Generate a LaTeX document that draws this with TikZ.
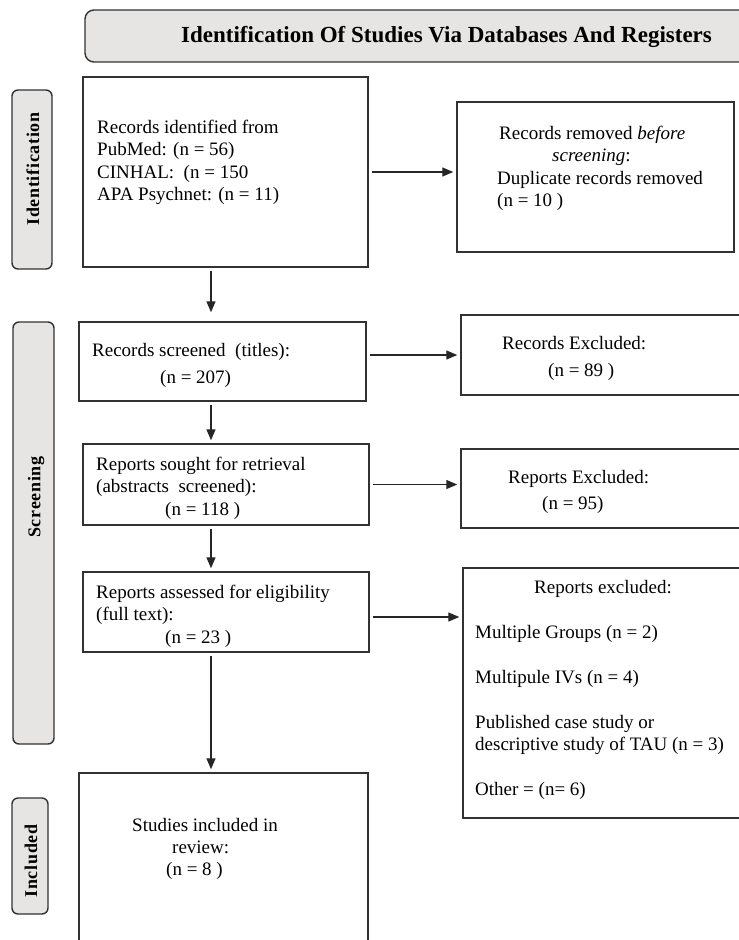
\documentclass[tikz,border=0pt]{standalone}
\usepackage{fontspec}
\setmainfont{Liberation Serif}
\usepackage{tikz}
\usetikzlibrary{arrows.meta}
\usetikzlibrary{positioning}
\definecolor{mgray}{RGB}{231,228,228}
\definecolor{medge}{RGB}{50,50,50}
\tikzset{box/.style = {draw=medge, line width=1.4pt, rectangle, inner sep=0pt},
         stage/.style = {box, fill=mgray, rounded corners=6pt},
         txt/.style = {anchor=north west, inner sep=0pt, align=left,
                       font=\fontsize{19}{22.3}\selectfont},
         stagetxt/.style = {rotate=90, inner sep=0pt,
                            font=\fontsize{18}{18}\selectfont\bfseries\addfontfeatures{LetterSpace=4}},
         flow/.style = {draw=black!85, line width=1.3pt,
                        -{Triangle[length=11pt,width=9pt]},
                        shorten <=3pt, shorten >=3pt}}

\begin{document}
\begin{tikzpicture}[x=1pt, y=-1pt]
    \useasboundingbox (0, 0) rectangle (739, 940);
    \clip (0, 0) rectangle (739, 940);
    % heading and stages
    \node [stage, minimum width=675pt, minimum height=52pt, rounded corners=9pt] (title) at (422.5, 36) {};
    \node [anchor=west, inner sep=0pt, font=\fontsize{23}{23}\selectfont\bfseries] (titletext) at (181, 37) {Identification Of Studies Via Databases And Registers};
    \node [stage, minimum width=40pt, minimum height=179pt] (ident) at (32, 179.5) {};
    \node [stagetxt] (identtext) at (33, 169) {Identification};
    \node [stage, minimum width=41pt, minimum height=422pt] (screen) at (33.5, 533) {};
    \node [stagetxt] (screentext) at (36, 497) {Screening};
    \node [stage, minimum width=36pt, minimum height=116pt] (incl) at (30, 856) {};
    \node [stagetxt] (incltext) at (31, 861) {Included};
    % boxes
    \node [box, minimum width=285pt, minimum height=190pt] (found) at (225.5, 172) {};
    \node [box, minimum width=277pt, minimum height=150pt] (removed) at (595.5, 177) {};
    \node [box, minimum width=287pt, minimum height=79pt] (screened) at (222.5, 361.5) {};
    \node [box, minimum width=289pt, minimum height=80pt] (recexcl) at (605.5, 355) {};
    \node [box, minimum width=286pt, minimum height=81pt] (sought) at (226, 484.5) {};
    \node [box, minimum width=289pt, minimum height=79pt] (repexcl) at (605.5, 488.5) {};
    \node [box, minimum width=286pt, minimum height=80pt] (assessed) at (226, 612) {};
    \node [box, minimum width=287pt, minimum height=250pt] (fullexcl) at (606.5, 693) {};
    \node [box, minimum width=289pt, minimum height=187pt] (included) at (223.5, 866.5) {};
    \coordinate (spine) at (211, 0);
    % texts
    \node [txt] (foundtext) at (97, 120) {Records identified from\\ PubMed: (n = 56)\\ CINHAL:~ (n = 150\\ APA Psychnet: (n = 11)};
    \node [txt] (removedtext) at (497, 126) {\hspace*{2pt}Records removed \textit{before}\\ \hspace*{55pt}\textit{screening}:\\ Duplicate records removed\\ (n = 10 )};
    \node [txt] (screenedtext) at (92, 343) {Records screened~ (titles):\\[5pt] \hspace*{68pt}(n = 207)};
    \node [txt] (recexcltext) at (502, 336) {Records Excluded:\\[5pt] \hspace*{46pt}(n = 89 )};
    \node [txt] (soughttext) at (96, 457) {Reports sought for retrieval\\ (abstracts~ screened):\\ \hspace*{69pt}(n = 118 )};
    \node [txt] (repexcltext) at (508, 470) {Reports Excluded:\\[4pt] \hspace*{34pt}(n = 95)};
    \node [txt] (assessedtext) at (96, 585) {Reports assessed for eligibility\\ (full text):\\ \hspace*{69pt}(n = 23 )};
    \node [txt] (fullexcltext) at (475, 580) {\hspace*{59pt}Reports excluded:\\[23pt] Multiple Groups (n = 2)\\[23pt] Multipule IVs (n = 4)\\[22pt] Published case study or\\ descriptive study of TAU (n = 3)\\[23pt] Other = (n= 6)};
    \node [txt] (includedtext) at (132, 818) {Studies included in\\ \hspace*{40pt}review:\\ \hspace*{34pt}(n = 8 )};
    % arrows
    \draw [flow] (found.east) -- (found.east -| removed.west);
    \draw [flow] (recexcl.west -| screened.east) -- (recexcl.west);
    \draw [flow] (sought.east) -- (sought.east -| repexcl.west);
    \draw [flow] ([yshift=-5pt]assessed.east) -- ([yshift=-5pt]assessed.east -| fullexcl.west);
    \draw [flow, shorten >=9pt] (found.south -| spine) -- (screened.north -| spine);
    \foreach \a/\b in {screened/sought, sought/assessed, assessed/included} {
      \draw [flow] (\a.south -| spine) -- (\b.north -| spine);
    }
  \end{tikzpicture}
\end{document}
